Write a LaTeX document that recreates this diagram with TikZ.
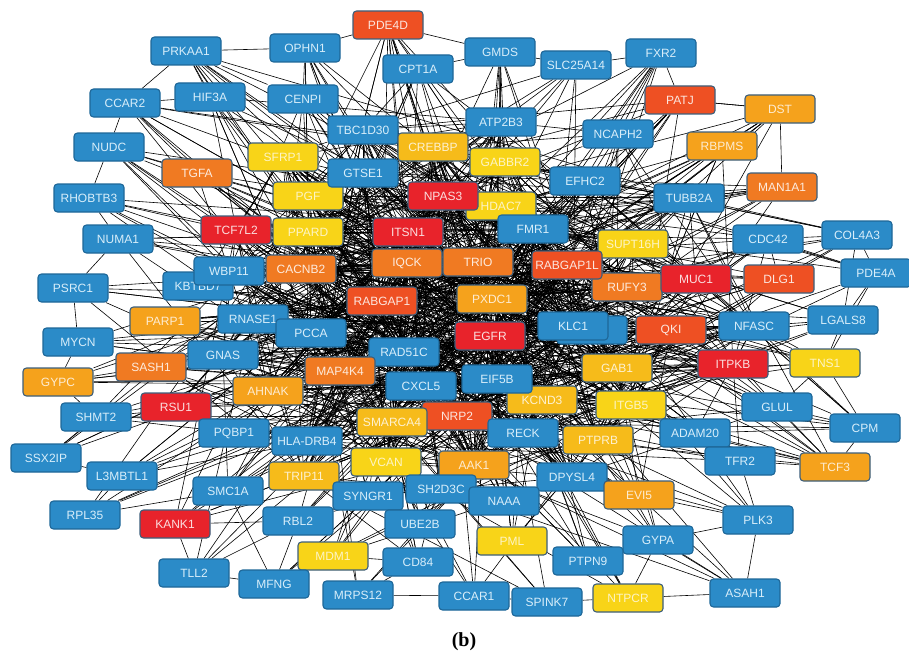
\documentclass[tikz,border=0pt]{standalone}
\usepackage{fontspec}
\usetikzlibrary{backgrounds}
\newfontfamily\genefont{Liberation Sans}
\newfontfamily\capfont{Liberation Serif}

\definecolor{fblue}{HTML}{2B8BC8}
\definecolor{dblue}{HTML}{1E6798}
\definecolor{tblue}{HTML}{D8EEFA}
\definecolor{fred}{HTML}{E8232B}
\definecolor{fredor}{HTML}{EE5023}
\definecolor{forange}{HTML}{F07A22}
\definecolor{famber}{HTML}{F5A21C}
\definecolor{fgold}{HTML}{F6BB1A}
\definecolor{fyellow}{HTML}{F8D418}
\definecolor{dwarm}{HTML}{3C5F7C}

\tikzset{
  gene/.style={rectangle, rounded corners=3.5pt, minimum width=70pt, minimum height=28pt,
    inner sep=1pt, line width=1.1pt, font=\genefont\fontsize{12}{14}\selectfont},
  cb/.style={gene, fill=fblue, draw=dblue, text=tblue},
  cr/.style={gene, fill=fred, draw=dwarm, text=fred!15!white},
  cro/.style={gene, fill=fredor, draw=dwarm, text=fredor!15!white},
  co/.style={gene, fill=forange, draw=dwarm, text=forange!15!white},
  ca/.style={gene, fill=famber, draw=dwarm, text=famber!20!white},
  cg/.style={gene, fill=fgold, draw=dwarm, text=fgold!20!white},
  cy/.style={gene, fill=fyellow, draw=dwarm, text=fyellow!25!white},
  link/.style={line width=0.6pt, black},
}

% pool of densely connected genes (weighted by repetition)
\def\hublist{{"EGFR","EGFR","PXDC1","PXDC1","TRIO","TRIO","IQCK","IQCK","RABGAP1","RABGAP1",
"ITSN1","ITSN1","RABGAP1L","RABGAP1L","KLC1","KLC1","RAD51C","RAD51C","EIF5B","EIF5B",
"CXCL5","CXCL5","FMR1","FMR1","NPAS3","NPAS3","KCND3","NRP2","SMARCA4","MAP4K4",
"PCCA","CACNB2","PPARD","GAB1","ITGB5","QKI","RUFY3","SUPT16H","MUC1","HDAC7",
"GTSE1","CREBBP","GABBR2","PGF","SFRP1","RNASE1","GNAS","AHNAK","TCF7L2","WBP11",
"ITPKB","RECK","PTPRB","AAK1","VCAN","TRIP11","HLADRB4","DPYSL4","NFASC","TUBB2A",
"EFHC2","ATP2B3","TBC1D30","EGFR","PXDC1"}}

\begin{document}
\begin{tikzpicture}[x=1pt,y=-1pt]
\useasboundingbox (0,0) rectangle (909,658);

% gene nodes
\node[cro] (PDE4D) at (388,25) {PDE4D};
\node[cb] (PRKAA1) at (186,51) {PRKAA1};
\node[cb] (OPHN1) at (305,48) {OPHN1};
\node[cb] (GMDS) at (500,52) {GMDS};
\node[cb] (SLC25A14) at (576,65) {SLC25A14};
\node[cb] (FXR2) at (661,53) {FXR2};
\node[cb] (CPT1A) at (418,69) {CPT1A};
\node[cb] (HIF3A) at (210,97) {HIF3A};
\node[cb] (CENPI) at (303,99) {CENPI};
\node[cb] (CCAR2) at (125,103) {CCAR2};
\node[cro] (PATJ) at (680,100) {PATJ};
\node[ca] (DST) at (780,109) {DST};
\node[cb] (TBC1D30) at (363,130) {TBC1D30};
\node[cb] (ATP2B3) at (501,122) {ATP2B3};
\node[cb] (NCAPH2) at (618,134) {NCAPH2};
\node[cb] (NUDC) at (109,147) {NUDC};
\node[ca] (RBPMS) at (722,146) {RBPMS};
\node[cg] (CREBBP) at (433,147) {CREBBP};
\node[cy] (SFRP1) at (283,157) {SFRP1};
\node[cy] (GABBR2) at (505,162) {GABBR2};
\node[co] (TGFA) at (197,173) {TGFA};
\node[cy] (PGF) at (308,196) {PGF};
\node[cb] (GTSE1) at (363,173) {GTSE1};
\node[cb] (EFHC2) at (585,181) {EFHC2};
\node[co] (MAN1A1) at (782,187) {MAN1A1};
\node[cb] (TUBB2A) at (689,198) {TUBB2A};
\node[cb] (RHOBTB3) at (89,198) {RHOBTB3};
\node[cy] (HDAC7) at (501,206) {HDAC7};
\node[cr] (NPAS3) at (443,196) {NPAS3};
\node[cb] (FMR1) at (533,229) {FMR1};
\node[cr] (TCF7L2) at (236,230) {TCF7L2};
\node[cy] (PPARD) at (308,232) {PPARD};
\node[cr] (ITSN1) at (408,232) {ITSN1};
\node[cy] (SUPT16H) at (633,244) {SUPT16H};
\node[cb] (CDC42) at (768,239) {CDC42};
\node[cb] (COL4A3) at (857,235) {COL4A3};
\node[cb] (NUMA1) at (118,239) {NUMA1};
\node[co] (CACNB2) at (301,269) {CACNB2};
\node[cb] (KBTBD7) at (198,286) {KBTBD7};
\node[cb] (WBP11) at (229,271) {WBP11};
\node[co] (IQCK) at (407,263) {IQCK};
\node[co] (TRIO) at (478,262) {TRIO};
\node[co] (RUFY3) at (627,287) {RUFY3};
\node[cro] (RABGAP1L) at (567,265) {RABGAP1L};
\node[cr] (MUC1) at (696,279) {MUC1};
\node[cro] (DLG1) at (779,279) {DLG1};
\node[cb] (PDE4A) at (876,273) {PDE4A};
\node[cb] (PSRC1) at (73,288) {PSRC1};
\node[cro] (RABGAP1) at (382,301) {RABGAP1};
\node[ca] (PXDC1) at (492,299) {PXDC1};
\node[ca] (PARP1) at (165,321) {PARP1};
\node[cb] (RNASE1) at (253,319) {RNASE1};
\node[cb] (PCCA) at (311,333) {PCCA};
\node[cb] (LGALS8) at (843,320) {LGALS8};
\node[cb] (NFASC) at (754,326) {NFASC};
\node[cb] (KLC1x) at (592,330) {};
\node[cb] (KLC1) at (573,326) {KLC1};
\node[cro] (QKI) at (671,330) {QKI};
\node[cr] (EGFR) at (490,336) {EGFR};
\node[cb] (MYCN) at (78,342) {MYCN};
\node[cb] (GNAS) at (223,355) {GNAS};
\node[cb] (RAD51C) at (404,352) {RAD51C};
\node[co] (SASH1) at (151,367) {SASH1};
\node[co] (MAP4K4) at (340,371) {MAP4K4};
\node[cg] (GAB1) at (617,368) {GAB1};
\node[cr] (ITPKB) at (733,364) {ITPKB};
\node[cy] (TNS1) at (825,363) {TNS1};
\node[ca] (GYPC) at (58,382) {GYPC};
\node[ca] (AHNAK) at (268,391) {AHNAK};
\node[cb] (CXCL5) at (421,386) {CXCL5};
\node[cg] (KCND3) at (542,400) {KCND3};
\node[cb] (EIF5B) at (497,379) {EIF5B};
\node[cr] (RSU1) at (176,407) {RSU1};
\node[cb] (SHMT2) at (96,417) {SHMT2};
\node[cy] (ITGB5) at (631,405) {ITGB5};
\node[cro] (NRP2) at (457,416) {NRP2};
\node[cg] (SMARCA4) at (392,422) {SMARCA4};
\node[cb] (GLUL) at (777,407) {GLUL};
\node[cb] (CPM) at (865,428) {CPM};
\node[cb] (PQBP1) at (234,433) {PQBP1};
\node[cb] (HLADRB4) at (307,441) {HLA-DRB4};
\node[cb] (RECK) at (523,433) {RECK};
\node[cg] (PTPRB) at (598,440) {PTPRB};
\node[cb] (ADAM20) at (695,433) {ADAM20};
\node[cb] (SSX2IP) at (46,458) {SSX2IP};
\node[cy] (VCAN) at (386,462) {VCAN};
\node[ca] (AAK1) at (474,465) {AAK1};
\node[cg] (TRIP11) at (304,476) {TRIP11};
\node[cb] (TFR2) at (740,461) {TFR2};
\node[ca] (TCF3) at (835,467) {TCF3};
\node[cb] (L3MBTL1) at (122,476) {L3MBTL1};
\node[cb] (DPYSL4) at (572,477) {DPYSL4};
\node[cb] (SMC1A) at (228,491) {SMC1A};
\node[cb] (SYNGR1) at (368,496) {SYNGR1};
\node[cb] (SH2D3C) at (441,489) {SH2D3C};
\node[cb] (NAAA) at (504,501) {NAAA};
\node[ca] (EVI5) at (639,495) {EVI5};
\node[cb] (RPL35) at (85,515) {RPL35};
\node[cr] (KANK1) at (175,524) {KANK1};
\node[cb] (RBL2) at (298,521) {RBL2};
\node[cb] (UBE2B) at (420,524) {UBE2B};
\node[cb] (PLK3) at (758,520) {PLK3};
\node[cy] (PML) at (512,541) {PML};
\node[cb] (GYPA) at (658,540) {GYPA};
\node[cy] (MDM1) at (333,556) {MDM1};
\node[cb] (CD84) at (418,562) {CD84};
\node[cb] (PTPN9) at (588,561) {PTPN9};
\node[cb] (TLL2) at (194,573) {TLL2};
\node[cb] (MFNG) at (274,584) {MFNG};
\node[cb] (ASAH1) at (745,593) {ASAH1};
\node[cb] (MRPS12) at (358,595) {MRPS12};
\node[cb] (CCAR1) at (474,596) {CCAR1};
\node[cb] (SPINK7) at (547,602) {SPINK7};
\node[cy] (NTPCR) at (628,598) {NTPCR};

% interactions, drawn beneath the gene boxes
\begin{pgfonlayer}{background}
\fill[white] (0,0) rectangle (909,658);
\pgfmathsetseed{11}
\foreach \gsrc/\gdeg in {PDE4D/14, PRKAA1/10, OPHN1/9, GMDS/9, SLC25A14/8, FXR2/8, CPT1A/10,
  HIF3A/8, CENPI/9, CCAR2/8, PATJ/12, DST/9, TBC1D30/9, ATP2B3/9, NCAPH2/10, NUDC/8,
  RBPMS/10, TGFA/10, EFHC2/9, MAN1A1/10, TUBB2A/9, RHOBTB3/7, CDC42/10, COL4A3/7,
  NUMA1/7, KBTBD7/8, DLG1/10, PDE4A/5, PSRC1/6, PARP1/9, LGALS8/6, NFASC/9, MYCN/6,
  SASH1/9, TNS1/8, GYPC/7, RSU1/9, SHMT2/7, GLUL/8, CPM/7, PQBP1/8, HLADRB4/8, ADAM20/8,
  SSX2IP/5, TFR2/8, TCF3/10, L3MBTL1/7, DPYSL4/8, SMC1A/8, SYNGR1/8, SH2D3C/8, NAAA/8,
  EVI5/8, RPL35/5, KANK1/7, RBL2/7, UBE2B/7, PLK3/6, PML/7, GYPA/6, MDM1/6, CD84/6,
  PTPN9/6, TLL2/4, MFNG/4, ASAH1/5, MRPS12/4, CCAR1/5, SPINK7/4, NTPCR/5,
  EGFR/26, PXDC1/24, TRIO/24, IQCK/24, RABGAP1/24, ITSN1/20, RABGAP1L/20, KLC1/20,
  KLC1x/6, RAD51C/20, EIF5B/20, CXCL5/20, KCND3/16, NRP2/18, SMARCA4/16, MAP4K4/16,
  PCCA/18, CACNB2/16, PPARD/15, GAB1/16, ITGB5/15, QKI/15, RUFY3/15, SUPT16H/14,
  MUC1/15, FMR1/18, HDAC7/15, NPAS3/18, GTSE1/14, CREBBP/14, GABBR2/14, PGF/14,
  SFRP1/13, RNASE1/15, GNAS/14, AHNAK/14, TCF7L2/14, WBP11/14, ITPKB/14, RECK/15,
  PTPRB/14, AAK1/14, VCAN/14, TRIP11/11} {
  \foreach \k in {1,...,\gdeg} {
    \pgfmathrandominteger{\ridx}{0}{64}
    \pgfmathsetmacro{\gdst}{\hublist[\ridx]}
    \edef\ea{\gsrc}\edef\eb{\gdst}
    \ifx\ea\eb\else
      \draw[link] (\gsrc) -- (\gdst);
    \fi
  }
}
% links along the outer ring
\foreach \ga/\gb in {PRKAA1/OPHN1, OPHN1/PDE4D, PDE4D/GMDS, GMDS/SLC25A14, SLC25A14/FXR2,
  FXR2/PATJ, PATJ/DST, DST/RBPMS, DST/MAN1A1, CCAR2/HIF3A, CCAR2/PRKAA1, NUDC/CCAR2,
  NUDC/RHOBTB3, RHOBTB3/NUMA1, NUMA1/PSRC1, PSRC1/MYCN, MYCN/GYPC, GYPC/SHMT2,
  SHMT2/SSX2IP, SSX2IP/L3MBTL1, L3MBTL1/RPL35, RPL35/SMC1A, KANK1/SMC1A, KANK1/TLL2,
  TLL2/MFNG, MFNG/RBL2, MRPS12/CCAR1, CCAR1/SPINK7, SPINK7/NTPCR, NTPCR/GYPA, GYPA/PLK3,
  GYPA/ASAH1, PLK3/ASAH1, PLK3/TFR2, TFR2/TCF3, TCF3/CPM, TCF3/ADAM20, CPM/GLUL,
  CPM/ADAM20, GLUL/TNS1, TNS1/LGALS8, LGALS8/PDE4A, PDE4A/COL4A3, COL4A3/CDC42,
  CDC42/DLG1, LGALS8/NFASC, COL4A3/TUBB2A, PDE4A/CDC42, PRKAA1/HIF3A, OPHN1/CENPI,
  CPT1A/GMDS, CPT1A/PDE4D, FXR2/NCAPH2, MAN1A1/TUBB2A, COL4A3/LGALS8, PDE4A/TNS1,
  CPM/TNS1, TLL2/RBL2, MFNG/SMC1A, KANK1/RBL2, MRPS12/CD84, CD84/MDM1, ASAH1/NTPCR,
  TFR2/ADAM20, PLK3/EVI5, TCF3/GLUL, DST/PATJ, PRKAA1/CENPI, CCAR2/TGFA, NUDC/TGFA} {
  \draw[link] (\ga) -- (\gb);
}
\end{pgfonlayer}

\node[font=\capfont\bfseries\fontsize{20}{24}\selectfont] (cap) at (464,642) {(b)};
\end{tikzpicture}
\end{document}
